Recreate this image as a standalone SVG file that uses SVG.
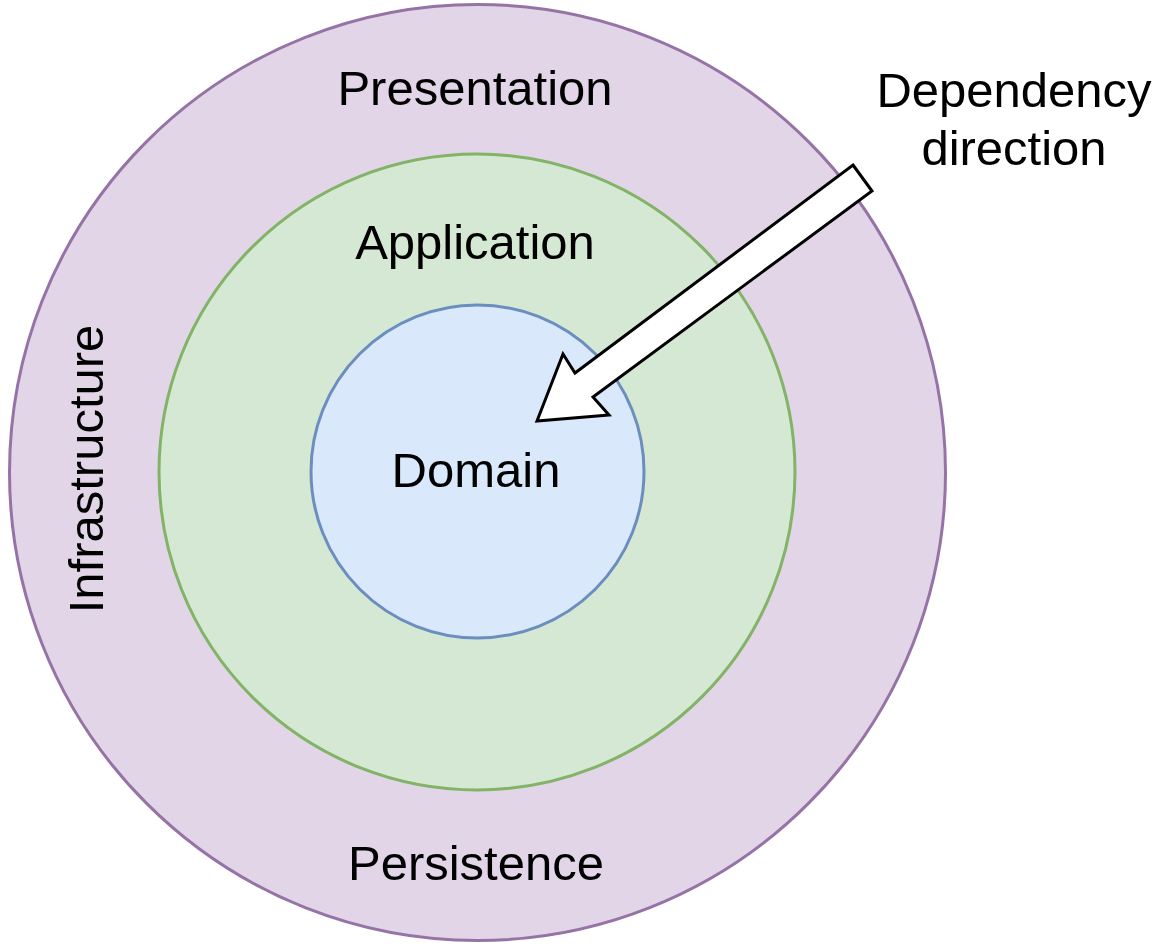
<svg xmlns="http://www.w3.org/2000/svg" width="1157" height="949" viewBox="0 0 1157 949">
<style>
text { font-family: "Liberation Sans", Arial, sans-serif; font-size: 49px; fill: #000; text-anchor: middle; }
</style>
<rect width="1157" height="949" fill="#fff"/>
<g id="infrastructure">
<circle cx="477.5" cy="472.5" r="468" fill="#e1d5e7" stroke="#9673a6" stroke-width="3"/>
<text x="475" y="105">Presentation</text>
<text x="476" y="880">Persistence</text>
<text transform="translate(103,469) rotate(-90)" x="0" y="0">Infrastructure</text>
</g>
<g id="application">
<circle cx="477" cy="472" r="318" fill="#d5e8d4" stroke="#82b366" stroke-width="3"/>
<text x="475" y="259">Application</text>
</g>
<g id="domain">
<circle cx="477.5" cy="471.5" r="166.5" fill="#dae8fc" stroke="#6c8ebf" stroke-width="3"/>
<text x="476" y="487">Domain</text>
</g>
<g id="label">
<text x="1014" y="107">Dependency</text>
<text x="1014" y="165">direction</text>
</g>
<g id="connectors">
<polygon points="853,165 872,191 593,397 609,415 537,421 563,354 575,373" fill="#fff" stroke="#000" stroke-width="3" stroke-linejoin="miter"/>
</g>
</svg>
